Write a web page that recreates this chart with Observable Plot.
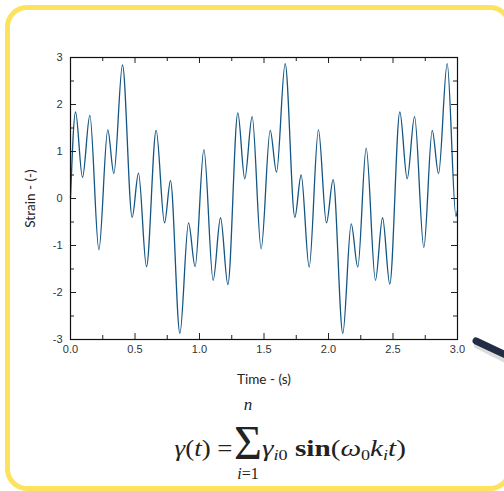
<!DOCTYPE html>
<html><head><meta charset="utf-8">
<script src="https://cdn.jsdelivr.net/npm/d3@7"></script>
<script src="https://cdn.jsdelivr.net/npm/@observablehq/plot@0.6"></script>
<style>
html,body{margin:0;padding:0;background:#fff;}
#wrap{position:relative;width:504px;height:491px;overflow:hidden;background:#fff;}
#border{position:absolute;left:5px;top:5px;width:507px;height:486px;box-sizing:border-box;border:5px solid #fde25e;border-radius:22px;}
#chart{position:absolute;left:0;top:0;}
#chart svg{display:block;}
g[aria-label="x-axis label"] text, g[aria-label="y-axis label"] text{font-family:Lato,"Open Sans",sans-serif;font-size:13.5px;fill:#222;}
.f{position:absolute;font-family:"Liberation Serif","DejaVu Serif",serif;color:#222;white-space:nowrap;line-height:1;}
.f i{font-style:italic;}
.f sub{font-size:0.62em;vertical-align:-0.3em;line-height:0;}
.f b{font-weight:bold;}
.mid{transform:translateX(-50%);}
#pen{position:absolute;left:0;top:0;}
</style>
</head><body>
<div id="wrap">
  <div id="border"></div>
  <div id="chart"></div>
  <div class="f" id="fl" style="right:271px;top:437px;font-size:23px;transform:scaleX(1.17);transform-origin:right center;"><i>γ</i>(<i>t</i>) =</div>
  <div class="f mid" id="fsig" style="left:248px;top:429px;font-size:48px;line-height:0.6;"><span style="margin:0 -6px;">Σ</span></div>
  <div class="f mid" style="left:248px;top:396px;font-size:17px;"><i>n</i></div>
  <div class="f mid" style="left:248px;top:466px;font-size:16px;"><i>i</i>=1</div>
  <div class="f" id="fr" style="left:262px;top:437px;font-size:23px;transform:scaleX(1.27);transform-origin:left center;"><i>γ</i><sub><i>i</i>0</sub> <b>sin</b>(<i>ω</i><sub>0</sub><i>k</i><sub><i>i</i></sub><i>t</i>)</div>
  <svg id="pen" width="504" height="491">
    <line x1="478" y1="345" x2="512" y2="362" stroke="#bbb" stroke-width="8" stroke-linecap="round" opacity="0.5"/>
    <line x1="476" y1="341" x2="512" y2="358" stroke="#232c45" stroke-width="7" stroke-linecap="round"/>
  </svg>
</div>
<script>
const timeS = [0, 0.039, 0.093, 0.150, 0.220, 0.289, 0.336, 0.403, 0.478, 0.527,
  0.589, 0.664, 0.729, 0.775, 0.848, 0.915, 0.966, 1.034, 1.106, 1.163,
  1.220, 1.297, 1.351, 1.408, 1.478, 1.548, 1.597, 1.664, 1.739, 1.788,
  1.850, 1.922, 1.984, 2.036, 2.111, 2.176, 2.227, 2.292, 2.364, 2.419,
  2.475, 2.553, 2.610, 2.667, 2.739, 2.804, 2.853, 2.920, 2.988, 3.0];
const strain = [0, 1.84, 0.45, 1.77, -1.09, 1.46, 0.53, 2.84, -0.40, 0.54,
  -1.45, 1.45, -0.52, 0.38, -2.87, -0.52, -1.45, 1.04, -1.74, -0.41,
  -1.83, 1.82, 0.42, 1.74, -1.07, 1.45, 0.56, 2.87, -0.40, 0.50,
  -1.46, 1.46, -0.52, 0.40, -2.87, -0.54, -1.46, 1.07, -1.74, -0.41,
  -1.82, 1.84, 0.42, 1.74, -1.04, 1.45, 0.53, 2.87, -0.38, -0.25];
const xMajor = [0, 0.5, 1, 1.5, 2, 2.5, 3];
const xMinor = [0.25, 0.75, 1.25, 1.75, 2.25, 2.75];
const yMajor = [-3, -2, -1, 0, 1, 2, 3];
const yMinor = [-2.5, -1.5, -0.5, 0.5, 1.5, 2.5];
const xLabel = "Time - (s)";
const yLabel = "Strain - (-)";

const data = timeS.map((t, i) => ({t, v: strain[i]}));
const mL = 70, mR = 47, mT = 57, mB = 51, Wd = 504, Ht = 390;
const FW = Wd - mL - mR, FH = Ht - mT - mB;
const tc = "#222";

const chart = Plot.plot({
  width: Wd, height: Ht,
  marginLeft: mL, marginRight: mR, marginTop: mT, marginBottom: mB,
  x: {domain: [0, 3]},
  y: {domain: [-3, 3]},
  style: {fontFamily: "'Liberation Sans', Arial, sans-serif", fontSize: "11px", color: "#333", background: "transparent"},
  marks: [
    Plot.line(data, {x: "t", y: "v", curve: "monotone-x", stroke: "#135583", strokeWidth: 1.3}),
    Plot.tickX(xMajor, {x: d => d, insetTop: FH - 6, stroke: tc}),
    Plot.tickX(xMajor, {x: d => d, insetBottom: FH - 6, stroke: tc}),
    Plot.tickX(xMinor, {x: d => d, insetTop: FH - 4, stroke: tc}),
    Plot.tickX(xMinor, {x: d => d, insetBottom: FH - 4, stroke: tc}),
    Plot.tickY(yMajor, {y: d => d, insetRight: FW - 6, stroke: tc}),
    Plot.tickY(yMajor, {y: d => d, insetLeft: FW - 6, stroke: tc}),
    Plot.tickY(yMinor, {y: d => d, insetRight: FW - 4, stroke: tc}),
    Plot.tickY(yMinor, {y: d => d, insetLeft: FW - 4, stroke: tc}),
    Plot.frame({stroke: "#111", strokeWidth: 1.2}),
    Plot.axisX({ticks: xMajor, tickSize: 0, tickPadding: 6, tickFormat: d => d.toFixed(1),
      label: xLabel, labelAnchor: "center", labelOffset: 44, labelArrow: "none"}),
    Plot.axisY({ticks: yMajor, tickSize: 0, tickPadding: 8, tickFormat: d => String(d),
      label: yLabel, labelAnchor: "center", labelOffset: 45, labelArrow: "none"})
  ]
});
document.getElementById("chart").appendChild(chart);
</script>
</body></html>
